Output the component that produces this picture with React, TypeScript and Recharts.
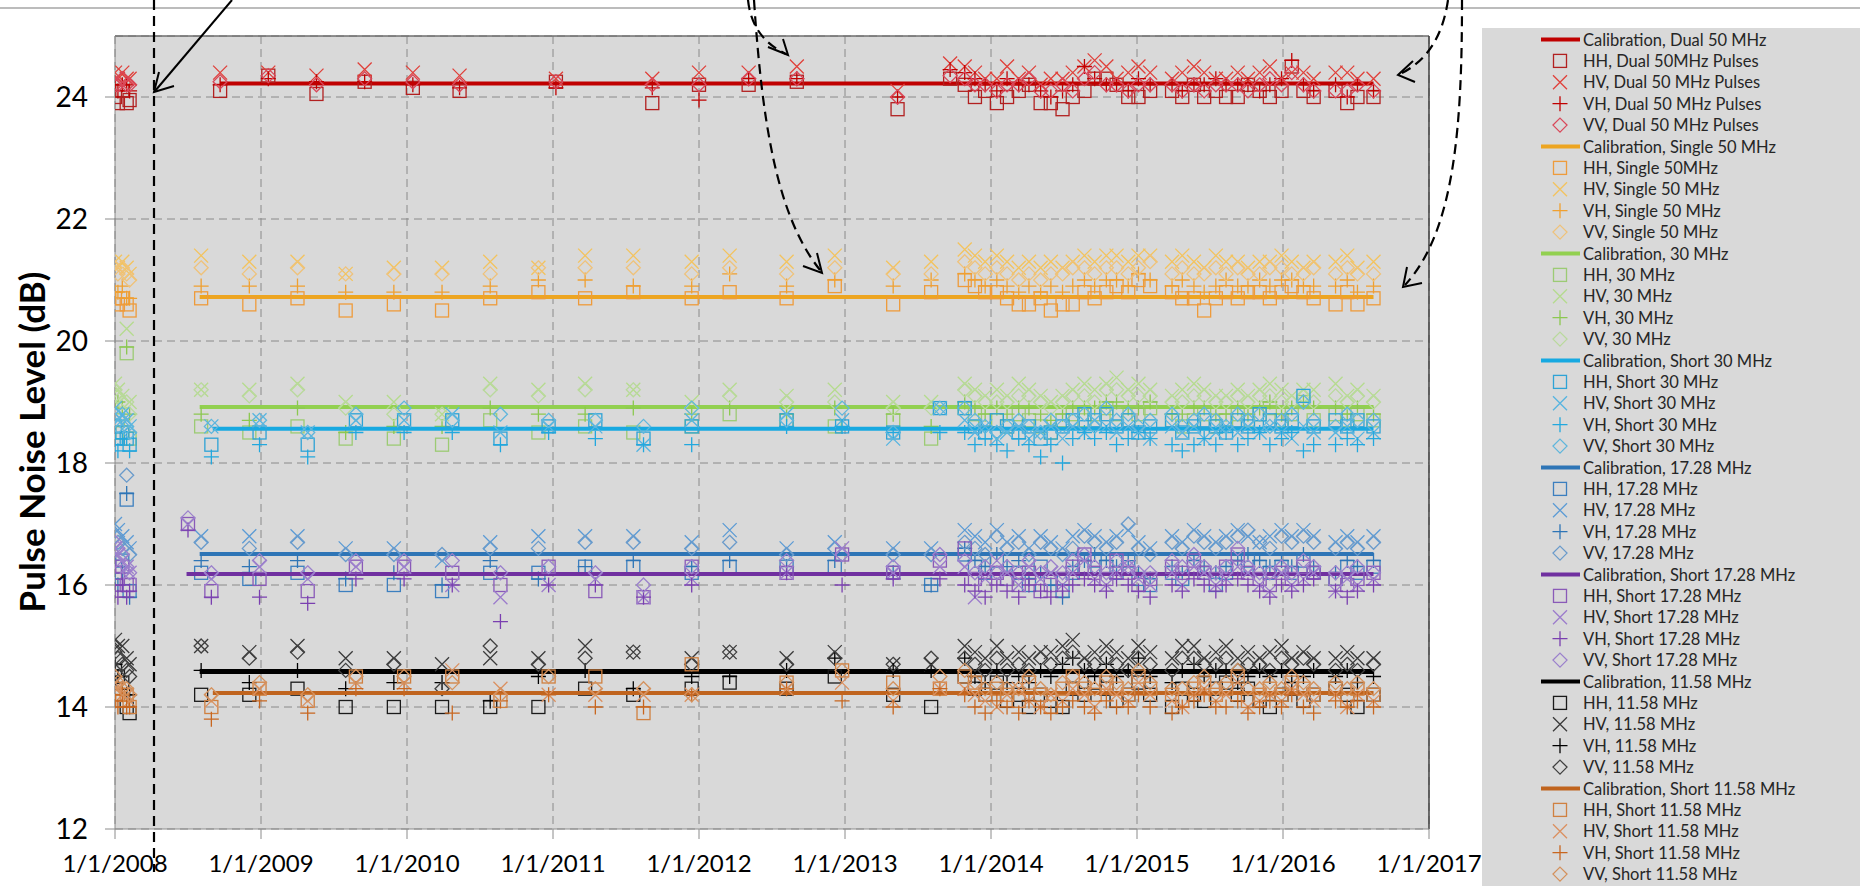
import React from 'react';
import { ScatterChart, Scatter, XAxis, YAxis, CartesianGrid, ReferenceLine } from 'recharts';

// ---- dates (decimal years) ----
const DATES_EARLY = [2008.0, 2008.02, 2008.05, 2008.08, 2008.1];
const DATES_DUAL = [2008.72, 2009.05, 2009.38, 2009.71, 2010.04, 2010.36, 2011.02, 2011.68, 2012.0, 2012.34, 2012.67, 2013.36, 2013.72];
const DATES_LONG = [2008.59, 2008.92, 2009.25, 2009.58, 2009.91, 2010.24, 2010.57, 2010.9, 2011.22, 2011.55, 2011.95, 2012.21, 2012.6, 2012.93, 2013.33, 2013.59];
const DATES_SHORT = [2008.66, 2008.99, 2009.32, 2009.65, 2009.98, 2010.31, 2010.64, 2010.97, 2011.29, 2011.62, 2011.95, 2012.6, 2012.98, 2013.33, 2013.65];
const DATES_SHORT_17 = [2008.5, 2008.66, 2008.99, 2009.32, 2009.65, 2009.98, 2010.31, 2010.64, 2010.97, 2011.29, 2011.62, 2011.95, 2012.6, 2012.98, 2013.33, 2013.65];
const DATES_DENSE = [2013.82, 2013.89, 2013.96, 2014.04, 2014.11, 2014.19, 2014.26, 2014.34, 2014.41, 2014.49, 2014.56, 2014.64, 2014.71, 2014.79, 2014.86, 2014.94, 2015.01, 2015.09, 2015.24, 2015.31, 2015.39, 2015.46, 2015.54, 2015.61, 2015.69, 2015.76, 2015.84, 2015.91, 2015.99, 2016.06, 2016.14, 2016.21, 2016.36, 2016.44, 2016.51, 2016.62];

const YEARS = [2008, 2009, 2010, 2011, 2012, 2013, 2014, 2015, 2016, 2017];
const Y_TICKS = [12, 14, 16, 18, 20, 22, 24];

// ---- calibration levels ----
const CAL_LEVEL = [24.22, 20.72, 18.92, 18.56, 16.51, 16.18, 14.58, 14.23];
const CAL_START = [2008.72, 2008.58, 2008.58, 2008.67, 2008.58, 2008.49, 2008.58, 2008.67];
const CAL_END = [2016.62, 2016.62, 2016.62, 2016.62, 2016.62, 2016.62, 2016.62, 2016.62];

// ---- Dual 50 MHz ----
const DUAL50_HH = [24.0, 23.9, 24.1, 23.9, 23.95,
  24.1, 24.35, 24.05, 24.25, 24.15, 24.1, 24.25, 23.9, 24.2, 24.2, 24.25, 23.8, 24.3,
  24.2, 24.0, 24.1, 23.9, 24.0, 24.1, 24.2, 23.9, 23.9, 23.8, 24.0, 24.1, 24.3, 24.3, 24.2, 24.0, 24.0, 24.1, 24.1, 24.0, 24.2, 24.0, 24.1, 24.0, 24.0, 24.2, 24.1, 24.0, 24.1, 24.5, 24.1, 24.0, 24.1, 23.9, 24.0, 24.0];
const DUAL50_HV = [24.4, 24.3, 24.4, 24.3, 24.3,
  24.4, 24.4, 24.35, 24.45, 24.4, 24.35, 24.3, 24.3, 24.4, 24.4, 24.5, 24.1, 24.55,
  24.5, 24.4, 24.3, 24.3, 24.5, 24.3, 24.4, 24.2, 24.3, 24.3, 24.4, 24.5, 24.6, 24.5, 24.3, 24.4, 24.5, 24.4, 24.3, 24.4, 24.5, 24.4, 24.3, 24.3, 24.4, 24.3, 24.4, 24.5, 24.3, 24.4, 24.4, 24.3, 24.4, 24.4, 24.3, 24.3];
const DUAL50_VH = [24.2, 24.1, 24.2, 24.2, 24.1,
  24.2, 24.3, 24.25, 24.25, 24.2, 24.15, 24.15, 24.15, 23.95, 24.3, 24.3, 24.0, 24.45,
  24.4, 24.3, 24.2, 24.1, 24.3, 24.2, 24.2, 24.1, 24.0, 24.1, 24.2, 24.5, 24.3, 24.2, 24.2, 24.1, 24.3, 24.2, 24.2, 24.1, 24.2, 24.2, 24.3, 24.2, 24.2, 24.2, 24.1, 24.2, 24.3, 24.6, 24.2, 24.1, 24.2, 24.0, 24.2, 24.1];
const DUAL50_VV = [24.2, 24.2, 24.3, 24.2, 24.2,
  24.25, 24.35, 24.2, 24.3, 24.25, 24.2, 24.25, 24.2, 24.2, 24.3, 24.3, 24.0, 24.35,
  24.3, 24.2, 24.2, 24.1, 24.2, 24.2, 24.3, 24.1, 24.1, 24.2, 24.1, 24.3, 24.4, 24.2, 24.2, 24.1, 24.2, 24.2, 24.2, 24.1, 24.2, 24.1, 24.2, 24.2, 24.2, 24.1, 24.2, 24.3, 24.2, 24.4, 24.2, 24.1, 24.1, 24.1, 24.2, 24.1];

// ---- Single 50 MHz ----
const SINGLE50_HH = [20.7, 20.6, 20.7, 20.6, 20.5,
  20.7, 20.6, 20.7, 20.5, 20.6, 20.5, 20.7, 20.8, 20.7, 20.8, 20.7, 20.8, 20.7, 20.9, 20.6, 20.8,
  21.0, 20.9, 20.8, 20.8, 20.7, 20.6, 20.6, 20.7, 20.5, 20.6, 20.6, 20.8, 20.7, 20.8, 20.9, 20.8, 21.0, 20.9, 20.8, 20.7, 20.7, 20.5, 20.7, 20.8, 20.7, 20.8, 20.8, 20.7, 20.8, 20.9, 20.8, 20.7, 20.6, 20.8, 20.6, 20.7];
const SINGLE50_HV = [21.3, 21.2, 21.3, 21.2, 21.1,
  21.4, 21.3, 21.3, 21.1, 21.2, 21.2, 21.3, 21.2, 21.4, 21.4, 21.3, 21.4, 21.3, 21.4, 21.2, 21.3,
  21.5, 21.4, 21.3, 21.4, 21.3, 21.2, 21.3, 21.2, 21.3, 21.2, 21.3, 21.4, 21.3, 21.4, 21.4, 21.3, 21.4, 21.4, 21.3, 21.4, 21.3, 21.2, 21.4, 21.3, 21.3, 21.2, 21.3, 21.3, 21.4, 21.3, 21.2, 21.3, 21.3, 21.4, 21.2, 21.3];
const SINGLE50_VH = [20.8, 20.8, 20.9, 20.7, 20.7,
  20.9, 20.9, 20.9, 20.8, 20.8, 20.8, 20.9, 21.0, 21.0, 20.9, 20.9, 21.1, 20.9, 21.0, 20.9, 21.0,
  21.1, 21.0, 20.9, 21.0, 20.9, 20.8, 20.9, 20.8, 20.9, 20.8, 20.9, 21.0, 20.9, 21.0, 21.0, 20.9, 21.1, 21.0, 20.9, 21.0, 20.9, 20.8, 20.9, 21.0, 20.9, 20.9, 21.0, 20.9, 21.0, 21.0, 20.9, 20.9, 20.9, 21.0, 20.8, 20.9];
const SINGLE50_VV = [21.2, 21.1, 21.2, 21.1, 21.0,
  21.2, 21.1, 21.2, 21.1, 21.1, 21.1, 21.1, 21.2, 21.2, 21.2, 21.1, 21.2, 21.1, 21.2, 21.1, 21.1,
  21.3, 21.2, 21.1, 21.2, 21.1, 21.0, 21.1, 21.0, 21.1, 21.1, 21.2, 21.2, 21.1, 21.2, 21.2, 21.1, 21.2, 21.3, 21.1, 21.2, 21.1, 21.1, 21.2, 21.1, 21.2, 21.1, 21.1, 21.2, 21.2, 21.1, 21.1, 21.2, 21.1, 21.2, 21.1, 21.1];

// ---- 30 MHz ----
const MHZ30_HH = [18.6, 18.7, 18.5, 19.8, 18.4,
  18.6, 18.5, 18.6, 18.4, 18.4, 18.3, 18.7, 18.5, 18.6, 18.5, 18.6, 18.8, 18.7, 18.6, 18.7, 18.4,
  18.9, 18.8, 18.7, 18.7, 18.6, 18.8, 18.7, 18.6, 18.5, 18.7, 18.8, 18.7, 18.8, 18.9, 18.8, 18.7, 18.8, 18.9, 18.7, 18.6, 18.7, 18.8, 18.6, 18.7, 18.8, 18.7, 18.8, 18.9, 18.7, 18.8, 19.0, 18.7, 18.8, 18.7, 18.8, 18.7];
const MHZ30_HV = [19.3, 19.2, 19.1, 20.2, 19.0,
  19.2, 19.2, 19.3, 19.0, 19.0, 18.8, 19.3, 19.2, 19.3, 19.2, 19.0, 19.2, 19.1, 19.2, 19.0, 19.0,
  19.3, 19.2, 19.1, 19.2, 19.1, 19.3, 19.2, 19.1, 19.0, 19.1, 19.2, 19.3, 19.2, 19.3, 19.4, 19.2, 19.3, 19.2, 19.1, 19.2, 19.3, 19.2, 19.1, 19.1, 19.2, 19.1, 19.2, 19.3, 19.2, 19.1, 19.2, 19.2, 19.3, 19.1, 19.2, 19.1];
const MHZ30_VH = [19.0, 19.0, 18.9, 19.9, 18.8,
  18.8, 18.7, 18.9, 18.5, 18.6, 18.6, 18.9, 18.8, 18.8, 18.9, 18.8, 18.9, 18.8, 18.9, 18.8, 18.6,
  19.0, 18.9, 18.8, 18.9, 18.8, 18.9, 18.9, 18.8, 18.7, 18.8, 18.9, 18.9, 18.9, 19.0, 19.0, 18.9, 18.9, 19.0, 18.8, 18.8, 18.9, 18.9, 18.8, 18.8, 18.9, 18.8, 18.9, 19.0, 18.8, 18.9, 19.0, 18.9, 18.9, 18.8, 18.9, 18.8];
const MHZ30_VV = [19.2, 19.1, 19.0, 19.0, 18.8,
  19.2, 19.1, 19.2, 18.9, 18.8, 18.8, 19.2, 19.1, 19.2, 19.2, 18.9, 19.1, 19.0, 19.0, 18.9, 18.9,
  19.2, 19.1, 19.0, 19.0, 19.0, 19.1, 19.1, 19.0, 18.9, 19.0, 19.1, 19.1, 19.0, 19.2, 19.2, 19.1, 19.1, 19.1, 19.0, 19.0, 19.1, 19.1, 19.0, 19.0, 19.1, 19.0, 19.1, 19.1, 19.0, 19.0, 19.1, 19.0, 19.1, 19.0, 19.1, 19.0];

// ---- Short 30 MHz ----
const SHORT30_HH = [18.6, 18.4, 18.5, 18.4, 18.3,
  18.3, 18.5, 18.3, 18.7, 18.7, 18.7, 18.4, 18.6, 18.7, 18.4, 18.6, 18.7, 18.6, 18.5, 18.9,
  18.9, 18.6, 18.5, 18.7, 18.6, 18.5, 18.6, 18.4, 18.5, 18.6, 18.7, 18.8, 18.7, 18.8, 18.6, 18.7, 18.5, 18.6, 18.7, 18.5, 18.6, 18.7, 18.6, 18.5, 18.7, 18.6, 18.8, 18.7, 18.6, 18.7, 19.1, 18.6, 18.7, 18.6, 18.7, 18.6];
const SHORT30_HV = [18.9, 18.7, 18.8, 18.7, 18.6,
  18.6, 18.7, 18.5, 18.7, 18.7, 18.8, 18.5, 18.6, 18.6, 18.3, 18.7, 18.8, 18.7, 18.4, 18.9,
  18.7, 18.5, 18.6, 18.4, 18.5, 18.6, 18.4, 18.5, 18.6, 18.4, 18.6, 18.5, 18.7, 18.6, 18.5, 18.6, 18.5, 18.4, 18.6, 18.5, 18.6, 18.4, 18.5, 18.6, 18.5, 18.6, 18.5, 18.6, 18.5, 18.4, 18.6, 18.5, 18.5, 18.6, 18.4, 18.5];
const SHORT30_VH = [18.3, 18.2, 18.4, 18.4, 18.2,
  18.1, 18.3, 18.1, 18.5, 18.5, 18.5, 18.3, 18.5, 18.4, 18.3, 18.3, 18.6, 18.6, 18.5, 18.5,
  18.5, 18.3, 18.4, 18.3, 18.2, 18.4, 18.3, 18.1, 18.3, 18.0, 18.4, 18.5, 18.4, 18.5, 18.3, 18.4, 18.5, 18.4, 18.3, 18.2, 18.3, 18.4, 18.3, 18.5, 18.3, 18.4, 18.5, 18.3, 18.4, 18.5, 18.2, 18.3, 18.3, 18.4, 18.3, 18.4];
const SHORT30_VV = [18.7, 18.6, 18.8, 18.6, 18.5,
  18.6, 18.7, 18.5, 18.8, 18.9, 18.7, 18.8, 18.7, 18.7, 18.6, 18.9, 18.7, 18.9, 18.5, 18.9,
  18.9, 18.7, 18.6, 18.5, 18.6, 18.7, 18.6, 18.5, 18.7, 18.6, 18.7, 18.8, 18.6, 18.9, 18.7, 18.8, 18.6, 18.7, 18.8, 18.6, 18.7, 18.8, 18.7, 18.6, 18.8, 18.7, 18.8, 18.6, 18.7, 18.8, 19.0, 18.7, 18.6, 18.8, 18.7, 18.7];

// ---- 17.28 MHz ----
const MHZ17_HH = [16.3, 16.2, 16.4, 17.4, 15.9,
  16.2, 16.1, 16.2, 16.0, 16.0, 15.9, 16.2, 16.2, 16.3, 16.3, 16.2, 16.3, 16.3, 16.3, 16.2, 16.0,
  16.5, 16.3, 16.2, 16.4, 16.1, 16.2, 16.0, 16.3, 16.1, 15.9, 16.2, 16.3, 16.4, 16.3, 16.2, 16.4, 16.1, 16.0, 16.2, 16.1, 16.3, 16.2, 16.0, 16.2, 16.3, 16.4, 16.3, 16.2, 16.3, 16.2, 16.4, 16.2, 16.1, 16.3, 16.2, 16.3];
const MHZ17_HV = [17.0, 16.9, 16.8, 16.7, 16.6,
  16.8, 16.8, 16.8, 16.6, 16.6, 16.4, 16.7, 16.8, 16.8, 16.8, 16.7, 16.9, 16.6, 16.7, 16.6, 16.6,
  16.9, 16.8, 16.7, 16.9, 16.7, 16.8, 16.6, 16.8, 16.7, 16.6, 16.8, 16.9, 16.8, 16.7, 16.8, 16.9, 16.7, 16.6, 16.8, 16.7, 16.9, 16.8, 16.7, 16.8, 16.9, 16.8, 16.7, 16.8, 16.9, 16.8, 16.9, 16.8, 16.7, 16.8, 16.7, 16.8];
const MHZ17_VH = [16.1, 16.0, 16.2, 17.5, 15.8,
  16.4, 16.3, 16.4, 16.1, 16.2, 16.0, 16.4, 16.1, 16.3, 16.4, 16.3, 16.4, 16.3, 16.4, 16.2, 16.0,
  16.6, 16.4, 16.3, 16.5, 16.3, 16.4, 16.1, 16.2, 16.0, 15.8, 16.3, 16.4, 16.5, 16.4, 16.3, 16.4, 16.2, 16.1, 16.3, 16.2, 16.4, 16.3, 16.2, 16.3, 16.4, 16.5, 16.4, 16.3, 16.4, 16.3, 16.5, 16.3, 16.2, 16.4, 16.3, 16.4];
const MHZ17_VV = [16.8, 16.7, 16.6, 17.8, 16.5,
  16.7, 16.6, 16.7, 16.5, 16.5, 16.5, 16.6, 16.6, 16.7, 16.7, 16.6, 16.7, 16.5, 16.6, 16.5, 16.5,
  16.7, 16.6, 16.5, 16.8, 16.6, 16.7, 16.5, 16.7, 16.6, 16.5, 16.6, 16.8, 16.7, 16.6, 16.7, 17.0, 16.6, 16.5, 16.7, 16.6, 16.8, 16.7, 16.6, 16.7, 16.8, 16.9, 16.7, 16.6, 16.8, 16.7, 16.8, 16.7, 16.6, 16.7, 16.6, 16.7];

// ---- Short 17.28 MHz ----
const SHORT17_HH = [16.2, 16.1, 16.3, 16.0, 16.0,
  17.0, 15.9, 16.1, 15.9, 16.3, 16.3, 16.2, 16.0, 16.3, 15.9, 15.8, 16.3, 16.2, 16.5, 16.2, 16.4,
  16.6, 16.1, 16.0, 16.2, 16.1, 16.0, 16.2, 15.9, 16.0, 16.1, 16.3, 16.5, 16.2, 16.1, 16.4, 16.2, 16.0, 16.1, 16.3, 16.2, 16.4, 16.2, 16.1, 16.3, 16.5, 16.2, 16.1, 16.0, 16.2, 16.1, 16.3, 16.2, 16.1, 16.0, 16.1, 16.2];
const SHORT17_HV = [16.6, 16.5, 16.4, 16.3, 16.2,
  17.0, 16.1, 16.3, 16.1, 16.3, 16.3, 16.0, 15.8, 16.0, 16.1, 15.8, 16.1, 16.2, 16.6, 16.2, 16.3,
  16.3, 15.8, 16.1, 16.4, 16.2, 16.0, 16.3, 16.1, 16.2, 16.0, 16.2, 16.4, 16.1, 16.0, 16.2, 16.3, 16.1, 16.0, 16.2, 16.0, 16.3, 16.2, 16.0, 16.1, 16.3, 16.2, 16.0, 15.9, 16.2, 16.0, 16.1, 16.2, 15.9, 16.1, 16.0, 16.1];
const SHORT17_VH = [15.9, 15.8, 16.0, 15.8, 15.9,
  16.9, 15.8, 15.8, 15.7, 16.1, 16.1, 16.0, 15.4, 16.0, 16.0, 15.8, 16.0, 16.2, 16.0, 16.1, 16.1,
  16.0, 15.9, 15.8, 16.0, 15.9, 15.8, 16.0, 15.9, 15.8, 15.9, 16.0, 16.1, 16.0, 15.9, 16.1, 16.0, 15.9, 15.8, 16.0, 15.9, 16.1, 16.0, 15.9, 16.0, 16.1, 16.0, 15.9, 15.8, 16.0, 15.9, 16.0, 16.1, 15.9, 15.8, 15.9, 16.0];
const SHORT17_VV = [16.7, 16.6, 16.5, 16.3, 16.2,
  17.1, 16.2, 16.4, 16.2, 16.4, 16.4, 16.4, 16.2, 16.3, 16.2, 16.0, 16.3, 16.4, 16.5, 16.3, 16.5,
  16.4, 16.2, 16.3, 16.2, 16.3, 16.2, 16.4, 16.2, 16.3, 16.2, 16.4, 16.5, 16.3, 16.2, 16.4, 16.3, 16.2, 16.2, 16.4, 16.3, 16.5, 16.3, 16.2, 16.3, 16.6, 16.3, 16.2, 16.2, 16.3, 16.2, 16.4, 16.3, 16.2, 16.2, 16.3, 16.2];

// ---- 11.58 MHz ----
const MHZ11_HH = [14.6, 14.5, 14.4, 14.0, 13.9,
  14.2, 14.2, 14.3, 14.0, 14.0, 14.0, 14.0, 14.0, 14.3, 14.2, 14.3, 14.4, 14.3, 14.5, 14.2, 14.0,
  14.5, 14.3, 14.2, 14.4, 14.1, 14.2, 14.0, 14.2, 14.1, 14.0, 14.3, 14.2, 14.4, 14.3, 14.1, 14.2, 14.4, 14.2, 14.0, 14.3, 14.2, 14.1, 14.3, 14.4, 14.2, 14.3, 14.1, 14.0, 14.2, 14.3, 14.1, 14.2, 14.3, 14.2, 14.0, 14.2];
const MHZ11_HV = [15.1, 15.0, 15.0, 14.8, 14.7,
  15.0, 14.9, 15.0, 14.8, 14.8, 14.7, 14.8, 14.8, 15.0, 14.9, 14.8, 14.9, 14.8, 14.9, 14.7, 14.7,
  15.0, 14.9, 14.8, 15.0, 14.8, 14.9, 14.8, 14.9, 14.9, 15.0, 15.1, 14.8, 14.9, 15.0, 14.9, 14.8, 15.0, 14.9, 14.8, 15.0, 15.0, 14.8, 14.9, 15.0, 14.8, 14.9, 14.8, 14.9, 15.0, 14.8, 14.9, 14.8, 14.8, 14.9, 14.8, 14.8];
const MHZ11_VH = [14.7, 14.5, 14.3, 14.2, 14.2,
  14.6, 14.4, 14.6, 14.3, 14.4, 14.4, 14.1, 14.5, 14.6, 14.3, 14.5, 14.5, 14.6, 14.8, 14.6, 14.6,
  14.8, 14.5, 14.4, 14.6, 14.4, 14.5, 14.4, 14.6, 14.5, 14.7, 14.8, 14.6, 14.5, 14.7, 14.5, 14.6, 14.8, 14.5, 14.4, 14.6, 14.7, 14.5, 14.6, 14.6, 14.4, 14.5, 14.6, 14.5, 14.6, 14.4, 14.5, 14.6, 14.5, 14.6, 14.4, 14.5];
const MHZ11_VV = [14.9, 14.8, 14.7, 14.6, 14.5,
  15.0, 14.8, 14.9, 14.6, 14.7, 14.3, 15.0, 14.7, 14.8, 14.9, 14.7, 14.9, 14.7, 14.8, 14.7, 14.8,
  14.8, 14.7, 14.6, 14.8, 14.6, 14.7, 14.6, 14.8, 14.7, 14.8, 14.9, 14.7, 14.7, 14.8, 14.7, 14.6, 14.8, 14.7, 14.6, 14.8, 14.8, 14.7, 14.7, 14.8, 14.6, 14.7, 14.7, 14.6, 14.8, 14.7, 14.8, 14.7, 14.6, 14.7, 14.6, 14.7];

// ---- Short 11.58 MHz ----
const SHORT11_HH = [14.3, 14.2, 14.1, 14.2, 14.0,
  14.0, 14.3, 14.1, 14.5, 14.5, 14.5, 14.1, 14.5, 14.5, 13.9, 14.7, 14.4, 14.6, 14.4, 14.3,
  14.5, 14.4, 14.2, 14.3, 14.2, 14.1, 14.4, 14.2, 14.0, 14.3, 14.5, 14.3, 14.2, 14.4, 14.3, 14.2, 14.5, 14.3, 14.2, 14.1, 14.3, 14.4, 14.2, 14.3, 14.5, 14.1, 14.2, 14.3, 14.2, 14.4, 14.3, 14.2, 14.3, 14.1, 14.3, 14.2];
const SHORT11_HV = [14.4, 14.3, 14.2, 14.2, 14.1,
  14.1, 14.3, 14.1, 14.4, 14.4, 14.6, 14.3, 14.2, 14.2, 14.2, 14.2, 14.3, 14.4, 14.1, 14.3,
  14.3, 14.2, 14.1, 14.0, 14.2, 14.3, 14.1, 14.0, 14.2, 14.1, 14.3, 14.2, 14.0, 14.3, 14.2, 14.1, 14.4, 14.2, 14.1, 14.0, 14.2, 14.3, 14.1, 14.2, 14.4, 14.0, 14.1, 14.2, 14.1, 14.3, 14.2, 14.1, 14.2, 14.0, 14.2, 14.1];
const SHORT11_VH = [14.1, 14.0, 14.2, 14.0, 14.0,
  13.8, 14.1, 13.9, 14.3, 14.3, 13.9, 14.1, 14.2, 14.0, 14.0, 14.2, 14.3, 14.1, 14.0, 14.3,
  14.2, 14.0, 13.9, 14.1, 14.0, 13.9, 14.1, 14.0, 13.9, 14.0, 14.1, 14.0, 13.9, 14.1, 14.0, 14.0, 14.2, 14.0, 13.9, 14.0, 14.1, 14.2, 14.0, 14.0, 14.1, 13.9, 14.0, 14.1, 14.0, 14.2, 14.0, 13.9, 14.1, 14.0, 14.1, 14.0];
const SHORT11_VV = [14.5, 14.4, 14.3, 14.3, 14.2,
  14.2, 14.4, 14.2, 14.5, 14.5, 14.4, 14.2, 14.5, 14.3, 14.3, 14.2, 14.4, 14.6, 14.3, 14.5,
  14.6, 14.4, 14.3, 14.4, 14.3, 14.3, 14.5, 14.3, 14.2, 14.4, 14.5, 14.4, 14.3, 14.5, 14.4, 14.3, 14.6, 14.4, 14.3, 14.3, 14.4, 14.5, 14.3, 14.4, 14.6, 14.3, 14.3, 14.4, 14.3, 14.5, 14.4, 14.3, 14.4, 14.3, 14.4, 14.3];

const CAL_LABELS = [
  'Calibration, Dual 50 MHz', 'Calibration, Single 50 MHz', 'Calibration, 30 MHz', 'Calibration, Short 30 MHz',
  'Calibration, 17.28 MHz', 'Calibration, Short 17.28 MHz', 'Calibration, 11.58 MHz', 'Calibration, Short 11.58 MHz',
];
const POL_LABELS = [
  ['HH, Dual 50MHz Pulses', 'HV, Dual 50 MHz Pulses', 'VH, Dual 50 MHz Pulses', 'VV, Dual 50 MHz Pulses'],
  ['HH, Single 50MHz', 'HV, Single 50 MHz', 'VH, Single 50 MHz', 'VV, Single 50 MHz'],
  ['HH, 30 MHz', 'HV, 30 MHz', 'VH, 30 MHz', 'VV, 30 MHz'],
  ['HH, Short 30 MHz', 'HV, Short 30 MHz', 'VH, Short 30 MHz', 'VV, Short 30 MHz'],
  ['HH, 17.28 MHz', 'HV, 17.28 MHz', 'VH, 17.28 MHz', 'VV, 17.28 MHz'],
  ['HH, Short 17.28 MHz', 'HV, Short 17.28 MHz', 'VH, Short 17.28 MHz', 'VV, Short 17.28 MHz'],
  ['HH, 11.58 MHz', 'HV, 11.58 MHz', 'VH, 11.58 MHz', 'VV, 11.58 MHz'],
  ['HH, Short 11.58 MHz', 'HV, Short 11.58 MHz', 'VH, Short 11.58 MHz', 'VV, Short 11.58 MHz'],
];

const GROUP_DATES = [
  [...DATES_EARLY, ...DATES_DUAL, ...DATES_DENSE],
  [...DATES_EARLY, ...DATES_LONG, ...DATES_DENSE],
  [...DATES_EARLY, ...DATES_LONG, ...DATES_DENSE],
  [...DATES_EARLY, ...DATES_SHORT, ...DATES_DENSE],
  [...DATES_EARLY, ...DATES_LONG, ...DATES_DENSE],
  [...DATES_EARLY, ...DATES_SHORT_17, ...DATES_DENSE],
  [...DATES_EARLY, ...DATES_LONG, ...DATES_DENSE],
  [...DATES_EARLY, ...DATES_SHORT, ...DATES_DENSE],
];
const GROUP_VALUES = [
  [DUAL50_HH, DUAL50_HV, DUAL50_VH, DUAL50_VV],
  [SINGLE50_HH, SINGLE50_HV, SINGLE50_VH, SINGLE50_VV],
  [MHZ30_HH, MHZ30_HV, MHZ30_VH, MHZ30_VV],
  [SHORT30_HH, SHORT30_HV, SHORT30_VH, SHORT30_VV],
  [MHZ17_HH, MHZ17_HV, MHZ17_VH, MHZ17_VV],
  [SHORT17_HH, SHORT17_HV, SHORT17_VH, SHORT17_VV],
  [MHZ11_HH, MHZ11_HV, MHZ11_VH, MHZ11_VV],
  [SHORT11_HH, SHORT11_HV, SHORT11_VH, SHORT11_VV],
];

// styling
const LINE_COLORS = ['#C00000', '#EDA521', '#92D050', '#17A9E1', '#2E75B6', '#7030A0', '#000000', '#C0641E'];
const MARKER_COLORS = [
  ['#B22020', '#E0403A', '#C00000', '#D9485A'],
  ['#EE9B3B', '#F3C35E', '#F0A030', '#EFC27A'],
  ['#9CCB74', '#B5DB8E', '#8CC850', '#B9D99C'],
  ['#2EA3D6', '#56B4E0', '#22A8DE', '#5FB6DC'],
  ['#3C7FBF', '#5B9BD5', '#2E75B6', '#6A9BCB'],
  ['#8A5AB8', '#9C7CCC', '#7A3FB0', '#9B80CC'],
  ['#1A1A1A', '#3A3A3A', '#000000', '#404040'],
  ['#D08040', '#DB9060', '#C8661F', '#D4915C'],
];
const KINDS = ['square', 'x', 'plus', 'diamond'];
const FONT = 'Lato, "Open Sans", sans-serif';

const Marker = ({ kind, cx, cy, color }: { kind: string; cx: number; cy: number; color: string }) => {
  if (cx == null || cy == null || isNaN(cx) || isNaN(cy)) return null;
  const sw = 1.3;
  if (kind === 'square') {
    const s = 6.5;
    return <rect x={cx - s} y={cy - s} width={2 * s} height={2 * s} fill="none" stroke={color} strokeWidth={sw} />;
  }
  if (kind === 'x') {
    const s = 7;
    return <path d={`M${cx - s},${cy - s}L${cx + s},${cy + s}M${cx - s},${cy + s}L${cx + s},${cy - s}`} fill="none" stroke={color} strokeWidth={sw} />;
  }
  if (kind === 'plus') {
    const s = 7.5;
    return <path d={`M${cx - s},${cy}L${cx + s},${cy}M${cx},${cy - s}L${cx},${cy + s}`} fill="none" stroke={color} strokeWidth={sw} />;
  }
  const s = 7;
  return <polygon points={`${cx},${cy - s} ${cx + s},${cy} ${cx},${cy + s} ${cx - s},${cy}`} fill="none" stroke={color} strokeWidth={sw} />;
};

const toPoints = (dates: number[], values: number[]) =>
  dates.map((t, i) => ({ t, v: values[i] })).filter((p) => p.v !== undefined);

const LegendPanel = () => {
  const rows: React.ReactNode[] = [];
  let k = 0;
  CAL_LABELS.forEach((cal, g) => {
    const y0 = 39.5 + k * 21.4;
    rows.push(
      <g key={`c${g}`}>
        <line x1={1541} x2={1580} y1={y0} y2={y0} stroke={LINE_COLORS[g]} strokeWidth={4} />
        <text x={1583} y={y0} dominantBaseline="central" fontSize={16.5} fill="#262626" fontFamily={FONT}>{cal}</text>
      </g>
    );
    k++;
    POL_LABELS[g].forEach((lab, p) => {
      const y = 39.5 + k * 21.4;
      rows.push(
        <g key={`p${g}-${p}`}>
          <Marker kind={KINDS[p]} cx={1560} cy={y} color={MARKER_COLORS[g][p]} />
          <text x={1583} y={y} dominantBaseline="central" fontSize={16.5} fill="#262626" fontFamily={FONT}>{lab}</text>
        </g>
      );
      k++;
    });
  });
  return (
    <g>
      <rect x={1482} y={28} width={378} height={858} fill="#d9d9d9" />
      {rows}
    </g>
  );
};

const Annotations = () => (
  <g fill="none" stroke="#000">
    <line x1={0} x2={1860} y1={8} y2={8} stroke="#a6a6a6" strokeWidth={1.5} />
    <line x1={154} x2={154} y1={0} y2={872} strokeWidth={2.2} strokeDasharray="10 6" />
    <line x1={232} y1={0} x2={155} y2={91} strokeWidth={2} />
    <polyline points="159,72 154,92 174,86" strokeWidth={2} />
    <path d="M748,0 Q752,38 786,54" strokeWidth={2.2} strokeDasharray="10 6" />
    <polyline points="768,47 788,55 783,39" strokeWidth={2} />
    <path d="M754,0 C762,120 776,215 820,270" strokeWidth={2.2} strokeDasharray="10 6" />
    <polyline points="803,266 822,273 817,253" strokeWidth={2} />
    <path d="M1448,0 Q1440,55 1400,74" strokeWidth={2.2} strokeDasharray="10 6" />
    <polyline points="1413,61 1398,75 1415,82" strokeWidth={2} />
    <path d="M1462,0 C1462,120 1456,230 1405,285" strokeWidth={2.2} strokeDasharray="10 6" />
    <polyline points="1407,267 1403,287 1422,283" strokeWidth={2} />
  </g>
);

export default function App() {
  return (
    <div style={{ position: 'absolute', left: 0, top: 0, width: 1860, height: 886, background: '#fff', fontFamily: FONT }}>
      <ScatterChart width={1860} height={886} margin={{ top: 36, right: 431, bottom: 0, left: 0 }}>
        <CartesianGrid fill="#d9d9d9" stroke="#8a8a8a" strokeDasharray="8 5" />
        <XAxis
          dataKey="t"
          type="number"
          domain={[2008, 2017]}
          ticks={YEARS}
          interval={0}
          allowDataOverflow
          tickFormatter={(v: number) => `1/1/${v}`}
          height={57}
          tickSize={10}
          tickMargin={16}
          stroke="#8c8c8c"
          tick={{ fontSize: 24, fill: '#000', fontFamily: FONT }}
        />
        <YAxis
          dataKey="v"
          type="number"
          domain={[12, 25]}
          ticks={Y_TICKS}
          interval={0}
          allowDataOverflow
          width={115}
          tickSize={10}
          tickMargin={17}
          stroke="#8c8c8c"
          tick={{ fontSize: 28, fill: '#000', fontFamily: FONT }}
        />
        <ReferenceLine y={25} stroke="#6e6e6e" strokeWidth={1.5} />
        <ReferenceLine x={2017} stroke="#404040" strokeWidth={1.5} />
        {CAL_LEVEL.map((lvl, g) => [
          <Scatter
            key={`cal${g}`}
            data={[{ t: CAL_START[g], v: lvl }, { t: CAL_END[g], v: lvl }]}
            line={{ stroke: LINE_COLORS[g], strokeWidth: g === 6 ? 5 : 4 }}
            shape={() => <g />}
            isAnimationActive={false}
          />,
          ...GROUP_VALUES[g].map((vals, p) => (
            <Scatter
              key={`s${g}-${p}`}
              data={toPoints(GROUP_DATES[g], vals)}
              shape={(props: any) => <Marker kind={KINDS[p]} cx={props.cx} cy={props.cy} color={MARKER_COLORS[g][p]} />}
              isAnimationActive={false}
            />
          )),
        ])}
      </ScatterChart>
      <svg width={1860} height={886} style={{ position: 'absolute', left: 0, top: 0, pointerEvents: 'none' }}>
        <LegendPanel />
        <text
          transform="translate(31,442) rotate(-90)"
          textAnchor="middle"
          dominantBaseline="central"
          fontSize={35}
          fontWeight={700}
          fill="#000"
          fontFamily={FONT}
        >
          Pulse Noise Level (dB)
        </text>
        <Annotations />
      </svg>
    </div>
  );
}
